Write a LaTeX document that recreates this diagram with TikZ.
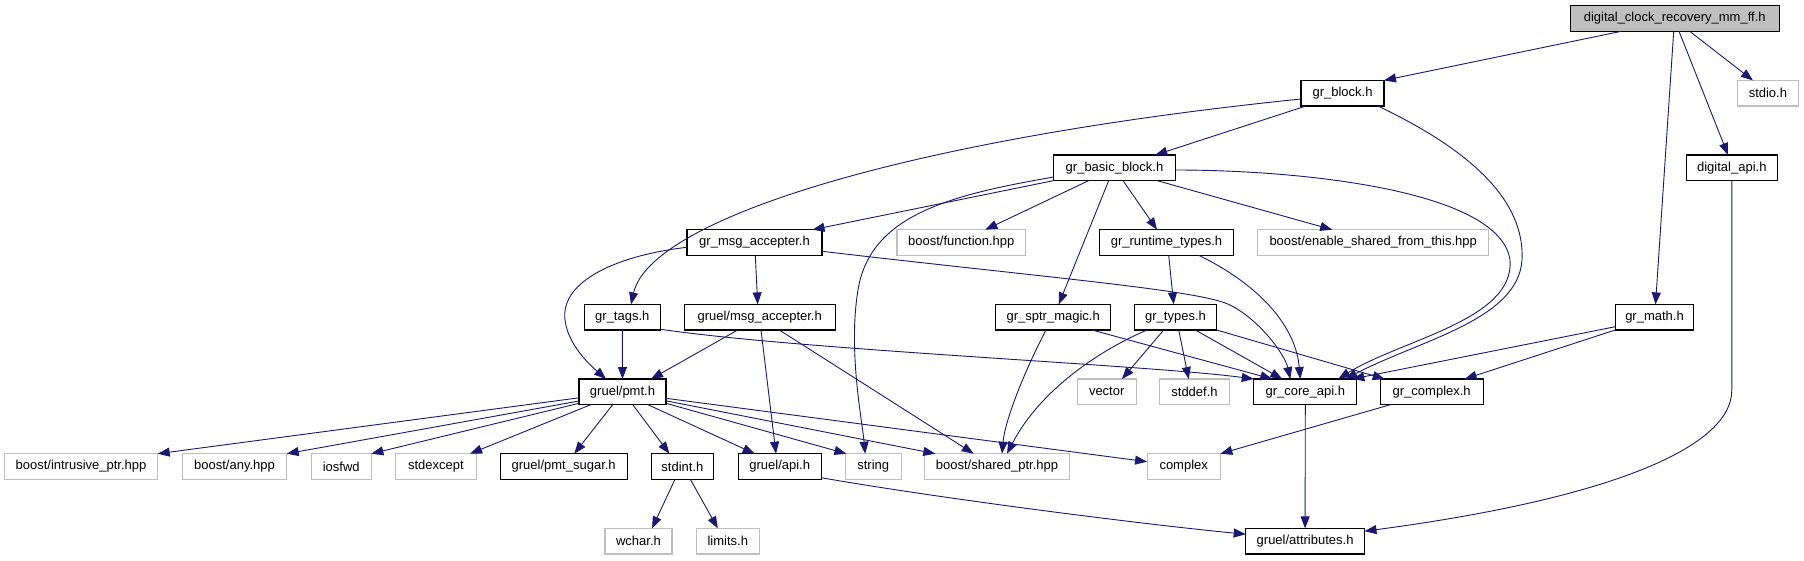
\documentclass[tikz,border=0pt]{standalone}
\usepackage{fontspec}
\setmainfont{Liberation Sans}
\usetikzlibrary{arrows.meta,calc}
\definecolor{navy}{HTML}{191970}
\definecolor{lgray}{HTML}{BFBFBF}
\begin{document}
\begin{tikzpicture}[x=1pt,y=-1pt,
  base/.style={rectangle,minimum height=25.6pt,inner sep=0pt,outer sep=0pt,fill=white,
    font=\fontsize{13}{15}\selectfont},
  box/.style={base,draw=black,line width=1.1pt},
  gbox/.style={base,draw=lgray,line width=1.1pt},
  rootbox/.style={base,draw=black,line width=1.1pt,fill=lgray},
  dep/.style={draw=navy,line width=0.9pt,-{Triangle[length=12pt,width=9pt]}}]
\useasboundingbox (0,0) rectangle (1804,560);
% row 0
\node[rootbox,minimum width=208.7pt] (A) at (1674.7,18.5) {digital\_clock\_recovery\_mm\_ff.h};
% row 1
\node[box,minimum width=83pt] (blk) at (1342.5,93.2) {gr\_block.h};
\node[gbox,minimum width=61.7pt] (stdio) at (1767.9,93.2) {stdio.h};
% row 2
\node[box,minimum width=121.6pt] (bb) at (1114.5,167.8) {gr\_basic\_block.h};
\node[box,minimum width=91pt] (dapi) at (1731.8,167.8) {digital\_api.h};
% row 3
\node[box,minimum width=135pt] (gma) at (754.5,242.5) {gr\_msg\_accepter.h};
\node[gbox,minimum width=128.7pt] (bfun) at (961.3,242.5) {boost/function.hpp};
\node[box,minimum width=133.6pt] (grt) at (1166.5,242.5) {gr\_runtime\_types.h};
\node[gbox,minimum width=231pt] (besft) at (1373.2,242.5) {boost/enable\_shared\_from\_this.hpp};
% row 4
\node[box,minimum width=76pt] (tags) at (622.3,317.2) {gr\_tags.h};
\node[box,minimum width=150.7pt] (gmsg) at (759.7,317.2) {gruel/msg\_accepter.h};
\node[box,minimum width=115pt] (sptr) at (1053.2,317.2) {gr\_sptr\_magic.h};
\node[box,minimum width=82.4pt] (types) at (1175.5,317.2) {gr\_types.h};
\node[box,minimum width=78.6pt] (math) at (1654.5,317.2) {gr\_math.h};
% row 5
\node[box,minimum width=87pt] (pmt) at (622.5,391.8) {gruel/pmt.h};
\node[gbox,minimum width=59.3pt] (vector) at (1106.7,391.8) {vector};
\node[gbox,minimum width=69.6pt] (stddef) at (1194.5,391.8) {stddef.h};
\node[box,minimum width=103.1pt] (core) at (1305.3,391.8) {gr\_core\_api.h};
\node[box,minimum width=102.8pt] (cplx) at (1431.7,391.8) {gr\_complex.h};
% row 6
\node[gbox,minimum width=153.4pt] (intr) at (81,466.5) {boost/intrusive\_ptr.hpp};
\node[gbox,minimum width=104.4pt] (any) at (234.5,466.5) {boost/any.hpp};
\node[gbox,minimum width=60.3pt] (iosfwd) at (341.2,466.5) {iosfwd};
\node[gbox,minimum width=80.3pt] (stdexc) at (435.9,466.5) {stdexcept};
\node[box,minimum width=126.7pt] (sugar) at (563.7,466.5) {gruel/pmt\_sugar.h};
\node[box,minimum width=62.7pt] (stdint) at (682.4,466.5) {stdint.h};
\node[box,minimum width=82.7pt] (gapi) at (779.7,466.5) {gruel/api.h};
\node[gbox,minimum width=55.7pt] (string) at (873.2,466.5) {string};
\node[gbox,minimum width=145.4pt] (sptrh) at (997,466.5) {boost/shared\_ptr.hpp};
\node[gbox,minimum width=73.3pt] (complex) at (1183.7,466.5) {complex};
% row 7
\node[gbox,minimum width=67pt] (wchar) at (638.5,541.2) {wchar.h};
\node[gbox,minimum width=63pt] (limits) at (727.8,541.2) {limits.h};
\node[box,minimum width=118.8pt] (attr) at (1305.1,541.2) {gruel/attributes.h};
% edges
\draw[dep] ($(A.south)+(-53.4,0)$) -- (blk.north east);
\draw[dep] ($(A.south)+(15,0)$) -- ($(stdio.north)+(-15,0)$);
\draw[dep] ($(A.south)+(4.3,0)$) -- ($(dapi.north)+(-3.8,0)$);
\draw[dep] ($(A.south)+(-1,0)$) -- ($(math.north)+(1,0)$);
\draw[dep] ($(blk.south)+(-36.5,0)$) -- ($(bb.north)+(40.8,0)$);
\draw[dep] ($(blk.west)+(0,5.8)$) .. controls (900,140) and (650,220) .. ($(tags.north)+(8.7,0)$);
\draw[dep] ($(blk.south)+(35.5,0)$) .. controls (1470,150) and (1525,200) .. (1522,260) .. controls (1518,320) and (1420,340) .. ($(core.north)+(40,0)$);
\draw[dep] (bb.south west) -- ($(gma.north)+(58,0)$);
\draw[dep] ($(bb.west)+(0,9.2)$) .. controls (950,195) and (870,215) .. (858,290) .. controls (848,350) and (862,420) .. ($(string.north)+(-8,0)$);
\draw[dep] ($(bb.south)+(-25.8,0)$) -- ($(bfun.north)+(24,0)$);
\draw[dep] ($(bb.south)+(-5.8,0)$) -- ($(sptr.north)+(5.5,0)$);
\draw[dep] ($(bb.south)+(8.5,0)$) -- ($(grt.north)+(-9.5,0)$);
\draw[dep] ($(bb.south)+(42.5,0)$) -- ($(besft.north)+(-41,0)$);
\draw[dep] ($(bb.east)+(0,2.2)$) .. controls (1300,170) and (1500,190) .. (1510,260) .. controls (1515,320) and (1400,340) .. ($(core.north)+(33,0)$);
\draw[dep] ($(grt.south)+(2.2,0)$) -- ($(types.north)+(-1.8,0)$);
\draw[dep] ($(grt.south)+(32.2,0)$) .. controls (1250,280) and (1295,320) .. ($(core.north)+(-5,0)$);
\draw[dep] ($(gma.south)+(0.8,0)$) -- ($(gmsg.north)+(-2,0)$);
\draw[dep] ($(gma.west)+(0,4.8)$) .. controls (620,255) and (560,280) .. (565,320) .. controls (568,345) and (590,365) .. ($(pmt.north)+(-16.5,0)$);
\draw[dep] ($(gma.east)+(0,8.8)$) .. controls (1050,278) and (1200,290) .. (1230,305) .. controls (1260,320) and (1285,355) .. ($(core.north)+(-15,0)$);
\draw[dep] (tags.south) -- (pmt.north);
\draw[dep] ($(tags.east)+(0,12)$) .. controls (800,350) and (1150,365) .. (core.north west);
\draw[dep] ($(gmsg.south)+(-22,0)$) -- ($(pmt.north)+(28.5,0)$);
\draw[dep] ($(gmsg.south)+(1.3,0)$) -- ($(gapi.north)+(-3.7,0)$);
\draw[dep] ($(gmsg.south)+(19.6,0)$) -- ($(sptrh.north)+(-23.3,0)$);
\draw[dep] ($(sptr.south)+(-7.2,0)$) .. controls (1025,370) and (1005,420) .. ($(sptrh.north)+(5,0)$);
\draw[dep] ($(sptr.south)+(38.8,0)$) -- ($(core.north)+(-33,0)$);
\draw[dep] ($(types.south)+(-11.8,0)$) -- ($(vector.north)+(15.3,0)$);
\draw[dep] ($(types.south)+(3.2,0)$) -- ($(stddef.north)+(-5.8,0)$);
\draw[dep] ($(types.south)+(19.8,0)$) -- ($(core.north)+(-23,0)$);
\draw[dep] (types.south east) -- ($(cplx.north)+(-47,0)$);
\draw[dep] ($(types.south)+(-28.5,0)$) .. controls (1100,350) and (1040,390) .. ($(sptrh.north)+(10,0)$);
\draw[dep] ($(math.west)+(0,9.5)$) -- ($(core.north)+(47,0)$);
\draw[dep] (math.south west) -- ($(cplx.north)+(33,0)$);
\coordinate (bend) at (1731.8,390);
\draw[dep] (dapi.south) -- (bend) .. controls (1731.8,450) and (1600,500) .. ($(attr.east)+(0,-10)$);
\draw[dep] (core.south) -- (attr.north);
\draw[dep] ($(cplx.south)+(-41,0)$) -- (complex.north east);
\draw[dep] ($(gapi.east)+(0,11.2)$) .. controls (950,500) and (1150,525) .. ($(attr.west)+(0,-7)$);
\draw[dep] ($(pmt.west)+(0,6)$) -- (intr.north east);
\draw[dep] ($(pmt.west)+(0,9.2)$) -- (any.north east);
\draw[dep] ($(pmt.west)+(0,11.5)$) -- (iosfwd.north east);
\draw[dep] ($(pmt.south)+(-31.5,0)$) -- ($(stdexc.north east)+(-6,0)$);
\draw[dep] ($(pmt.south)+(-9.8,0)$) -- ($(sugar.north)+(10.6,0)$);
\draw[dep] ($(pmt.south)+(10.2,0)$) -- ($(stdint.north)+(-13,0)$);
\draw[dep] ($(pmt.south)+(25.2,0)$) -- ($(gapi.north)+(-25,0)$);
\draw[dep] ($(pmt.east)+(0,11.5)$) -- ($(string.north west)+(1,0)$);
\draw[dep] ($(pmt.east)+(0,9)$) -- ($(sptrh.north west)+(11,0)$);
\draw[dep] ($(pmt.east)+(0,6.5)$) -- ($(complex.west)+(0,-4.8)$);
\draw[dep] ($(stdint.south)+(-7.4,0)$) -- ($(wchar.north)+(13.5,0)$);
\draw[dep] ($(stdint.south)+(7.9,0)$) -- ($(limits.north)+(-10,0)$);
\end{tikzpicture}
\end{document}
